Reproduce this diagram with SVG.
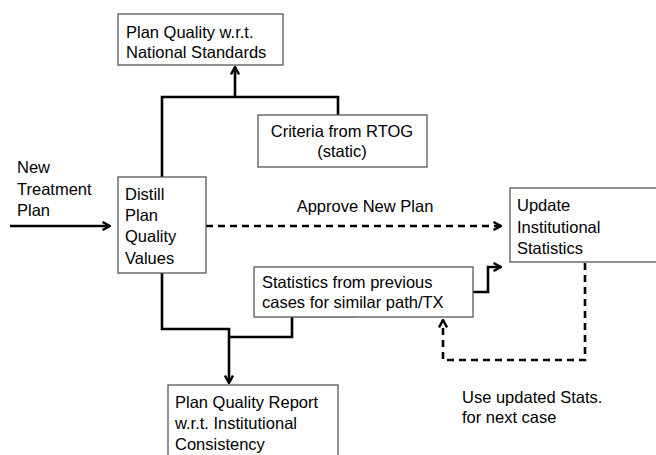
<svg xmlns="http://www.w3.org/2000/svg" width="656" height="455" viewBox="0 0 656 455">
<defs>
<style>
.box{fill:#fff;stroke:#555;stroke-width:1.3}
.t{font-family:"Liberation Sans",Arial,sans-serif;font-size:16.5px;fill:#000}
.c{text-anchor:middle}
.ln{fill:none;stroke:#000;stroke-width:2.6}
.ds{fill:none;stroke:#000;stroke-width:2.6;stroke-dasharray:7 5}
</style>
<marker id="ah" viewBox="0 0 10 10" refX="9" refY="5" markerWidth="10" markerHeight="10" markerUnits="userSpaceOnUse" orient="auto">
<path d="M1.5,1 L9,5 L1.5,9" fill="none" stroke="#000" stroke-width="2.4"/>
</marker>
</defs>
<rect width="656" height="455" fill="#fff"/>
<g id="connectors">
<path class="ln" d="M162,177 V97 H338 V115"/>
<path class="ln" d="M235,97 V67" marker-end="url(#ah)"/>
<path class="ln" d="M10,226 H110" marker-end="url(#ah)"/>
<path class="ds" d="M206,226 H501" marker-end="url(#ah)"/>
<path class="ln" d="M473,292 H488 V267 H501" marker-end="url(#ah)"/>
<path class="ds" d="M585,263 V360 H443 V320" marker-end="url(#ah)"/>
<path class="ln" d="M162,273 V329 H229 V383" marker-end="url(#ah)"/>
<path class="ln" d="M355,316 H292 V337 H229"/>
</g>
<g id="national">
<rect class="box" x="118" y="14" width="165" height="51"/>
<text class="t" x="126" y="38">Plan Quality w.r.t.</text>
<text class="t" x="126" y="58">National Standards</text>
</g>
<g id="rtog">
<rect class="box" x="258" y="115" width="169" height="52"/>
<text class="t c" x="342" y="137">Criteria from RTOG</text>
<text class="t c" x="342" y="157">(static)</text>
</g>
<g id="newplan">
<text class="t" x="17" y="173">New</text>
<text class="t" x="17" y="195">Treatment</text>
<text class="t" x="17" y="216">Plan</text>
</g>
<g id="distill">
<rect class="box" x="118" y="177" width="88" height="96"/>
<text class="t" x="125" y="200">Distill</text>
<text class="t" x="125" y="221">Plan</text>
<text class="t" x="125" y="242">Quality</text>
<text class="t" x="125" y="264">Values</text>
</g>
<g id="approve">
<text class="t c" x="365" y="212">Approve New Plan</text>
</g>
<g id="update">
<rect class="box" x="510" y="188" width="160" height="74"/>
<text class="t" x="517" y="211">Update</text>
<text class="t" x="517" y="233">Institutional</text>
<text class="t" x="517" y="254">Statistics</text>
</g>
<g id="stats">
<rect class="box" x="254" y="267" width="219" height="50"/>
<text class="t" x="262" y="288">Statistics from previous</text>
<text class="t" x="262" y="308">cases for similar path/TX</text>
</g>
<g id="report">
<rect class="box" x="168" y="385" width="170" height="80"/>
<text class="t" x="175" y="408">Plan Quality Report</text>
<text class="t" x="175" y="429">w.r.t. Institutional</text>
<text class="t" x="175" y="450">Consistency</text>
</g>
<g id="useupdated">
<text class="t" x="462" y="403">Use updated Stats.</text>
<text class="t" x="462" y="423">for next case</text>
</g>
</svg>
